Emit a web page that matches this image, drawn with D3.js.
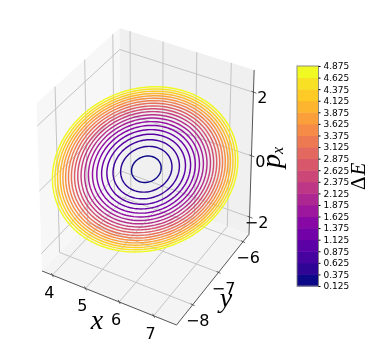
<!DOCTYPE html>
<html>
<head>
<meta charset="utf-8">
<script src="https://cdn.jsdelivr.net/npm/d3@7"></script>
<style>
  html, body { margin: 0; padding: 0; background: #fff; }
  svg { filter: blur(0.3px); }
  text { font-family: "DejaVu Sans", sans-serif; fill: #000; }
  .math { font-family: "Liberation Serif", serif; font-style: italic; }
</style>
</head>
<body>
<svg id="chart" width="374" height="352"></svg>
<script>
// contour levels, also the colorbar tick labels
let levels = [0.125, 0.375, 0.625, 0.875, 1.125, 1.375, 1.625, 1.875, 2.125, 2.375,
              2.625, 2.875, 3.125, 3.375, 3.625, 3.875, 4.125, 4.375, 4.625, 4.875]
// size of every ring relative to the outermost
let ringSizes = [0.16, 0.277, 0.358, 0.424, 0.48, 0.531, 0.577, 0.62, 0.66, 0.698,
                 0.733, 0.767, 0.80, 0.831, 0.861, 0.89, 0.918, 0.946, 0.973, 1.00]
let xTicks = [4, 5, 6, 7]
let yTicks = [-8, -7, -6]
let zTicks = [-2, 0, 2]
let xLimits = [3.68, 7.65]
let yLimits = [-8.6, -5.75]
let zLimits = [-2.57, 2.68]
// outermost ring: centre, amplitude and phase (degrees) per axis
let ringCentre = [5.64, -7.17, 0.11]
let ringAmplitude = [1.82, 1.31, 1.96]
let ringPhase = [0, 37, 107.5]

let svg = d3.select('#chart')

let elev = 30 * Math.PI / 180
let azim = -60 * Math.PI / 180
let dist = 10

let xNorm = d3.scaleLinear().domain(xLimits).range([0, 1])
let yNorm = d3.scaleLinear().domain(yLimits).range([0, 1])
let zNorm = d3.scaleLinear().domain(zLimits).range([0, 1])

let dot = (a, b) => a[0] * b[0] + a[1] * b[1] + a[2] * b[2]
let unit = (a) => { let n = Math.sqrt(dot(a, a)); return a.map(v => v / n) }
let cross = (a, b) => [a[1] * b[2] - a[2] * b[1], a[2] * b[0] - a[0] * b[2], a[0] * b[1] - a[1] * b[0]]

let eye = [0.5 + dist * Math.cos(elev) * Math.cos(azim),
           0.5 + dist * Math.cos(elev) * Math.sin(azim),
           0.5 + dist * Math.sin(elev)]
let w = unit([eye[0] - 0.5, eye[1] - 0.5, eye[2] - 0.5])
let u = unit(cross([0, 0, 1], w))
let v = cross(w, u)

// perspective projection, before it is fitted to the page
let rawProject = (x, y, z) => {
    let p = [xNorm(x) - eye[0], yNorm(y) - eye[1], zNorm(z) - eye[2]]
    let depth = -dot(w, p)
    return [dot(u, p) * dist / depth, dot(v, p) * dist / depth]
}

let [x0, x1] = xLimits
let [y0, y1] = yLimits
let [z0, z1] = zLimits

let screenX = d3.scaleLinear()
    .domain([rawProject(x0, y0, z0)[0], rawProject(x1, y1, z0)[0]])
    .range([42, 249])
let screenY = d3.scaleLinear()
    .domain([rawProject(x1, y0, z0)[1], rawProject(x0, y1, z1)[1]])
    .range([325, 28])

let project = (x, y, z) => {
    let r = rawProject(x, y, z)
    return [screenX(r[0]), screenY(r[1])]
}

let polyline = d3.line()

// panes
let panes = [
    { fill: '#f7f7f7', pts: [[x0, y0, z0], [x0, y1, z0], [x0, y1, z1], [x0, y0, z1]] },
    { fill: '#f0f0f0', pts: [[x0, y1, z0], [x1, y1, z0], [x1, y1, z1], [x0, y1, z1]] },
    { fill: '#f4f4f4', pts: [[x0, y0, z0], [x1, y0, z0], [x1, y1, z0], [x0, y1, z0]] }
]
svg.selectAll('.pane')
    .data(panes)
    .enter()
    .append('path')
    .attr('class', 'pane')
    .attr('fill', d => d.fill)
    .attr('d', d => polyline(d.pts.map(p => project(p[0], p[1], p[2]))) + 'Z')

// grid lines run along the floor and up the walls
let gridLines = []
xTicks.forEach(t => gridLines.push([[t, y0, z0], [t, y1, z0], [t, y1, z1]]))
yTicks.forEach(t => gridLines.push([[x1, t, z0], [x0, t, z0], [x0, t, z1]]))
zTicks.forEach(t => gridLines.push([[x0, y0, t], [x0, y1, t], [x1, y1, t]]))

svg.selectAll('.grid')
    .data(gridLines)
    .enter()
    .append('path')
    .attr('class', 'grid')
    .attr('fill', 'none')
    .attr('stroke', '#c4c4c4')
    .attr('stroke-width', 1)
    .attr('d', d => polyline(d.map(p => project(p[0], p[1], p[2]))))

// axis edges
let axisEdges = [
    [[x0, y0, z0], [x1, y0, z0]],
    [[x1, y0, z0], [x1, y1, z0]],
    [[x1, y1, z0], [x1, y1, z1]]
]
svg.selectAll('.edge')
    .data(axisEdges)
    .enter()
    .append('path')
    .attr('class', 'edge')
    .attr('stroke', '#555555')
    .attr('stroke-width', 1)
    .attr('d', d => polyline(d.map(p => project(p[0], p[1], p[2]))))

// tick marks and tick labels
let tickFormat = d => String(d).replace('-', '\u2212')
let axisTicks = [
    ...xTicks.map(t => ({ label: t, at: project(t, y0, z0), mark: [-1, -2, 1, 2], off: [-3, 17] })),
    ...yTicks.map(t => ({ label: t, at: project(x1, t, z0), mark: [-2, -1, 2, 1], off: [5, 16] })),
    ...zTicks.map(t => ({ label: t, at: project(x1, y1, t), mark: [-2, -1, 3, 1], off: [t < 0 ? 7 : 9, 5] }))
]
let tickGroups = svg.selectAll('.tick3d')
    .data(axisTicks)
    .enter()
    .append('g')
    .attr('class', 'tick3d')
    .attr('transform', d => `translate(${d.at[0]},${d.at[1]})`)
tickGroups.append('line')
    .attr('x1', d => d.mark[0])
    .attr('y1', d => d.mark[1])
    .attr('x2', d => d.mark[2])
    .attr('y2', d => d.mark[3])
    .attr('stroke', '#444444')
    .attr('stroke-width', 0.8)
tickGroups.append('text')
    .attr('x', d => d.off[0])
    .attr('y', d => d.off[1])
    .attr('dy', '0.36em')
    .attr('text-anchor', 'middle')
    .attr('font-size', 16)
    .text(d => tickFormat(d.label))

// rings
let ringColor = d3.scaleSequential(d3.interpolatePlasma)
    .domain([levels[0], levels[levels.length - 1]])
let angles = d3.range(0, 361, 3).map(d => d * Math.PI / 180)
let ringPoints = (size) => angles.map(t => {
    let c = ringCentre.map((m, i) => m + size * ringAmplitude[i] * Math.cos(t + ringPhase[i] * Math.PI / 180))
    return project(c[0], c[1], c[2])
})

svg.selectAll('.ring')
    .data(levels)
    .enter()
    .append('path')
    .attr('class', 'ring')
    .attr('fill', 'none')
    .attr('stroke', d => ringColor(d))
    .attr('stroke-width', 1.45)
    .attr('d', (d, i) => polyline(ringPoints(ringSizes[i])))

// axis labels
let axisLabels = [
    { text: 'x', x: 97, y: 328.5 },
    { text: 'y', x: 226, y: 307 }
]
svg.selectAll('.axis-label')
    .data(axisLabels)
    .enter()
    .append('text')
    .attr('class', 'axis-label math')
    .attr('text-anchor', 'middle')
    .attr('font-size', 28)
    .attr('x', d => d.x)
    .attr('y', d => d.y)
    .text(d => d.text)

let pxLabel = svg.append('text')
    .attr('class', 'math')
    .attr('font-size', 28)
    .attr('transform', 'translate(280,168) rotate(-90)')
pxLabel.append('tspan').text('p')
pxLabel.append('tspan').attr('font-size', 16).attr('dy', 3).text('x')

// colorbar
let barX = d3.scaleLinear().domain([0, 1]).range([297, 318.5])
let barY = d3.scaleLinear().domain([levels[0], levels[levels.length - 1]]).range([286, 66])
let bands = d3.pairs(levels)
let bandColor = d3.scaleSequential(d3.interpolatePlasma).domain([0, bands.length - 1])

svg.selectAll('.band')
    .data(bands)
    .enter()
    .append('rect')
    .attr('class', 'band')
    .attr('x', barX(0))
    .attr('width', barX(1) - barX(0))
    .attr('y', d => barY(d[1]))
    .attr('height', d => barY(d[0]) - barY(d[1]) + 0.5)
    .attr('fill', (d, i) => bandColor(i))

svg.append('rect')
    .attr('x', barX(0))
    .attr('y', barY(levels[levels.length - 1]))
    .attr('width', barX(1) - barX(0))
    .attr('height', barY(levels[0]) - barY(levels[levels.length - 1]))
    .attr('fill', 'none')
    .attr('stroke', '#808080')
    .attr('stroke-width', 0.9)

let barAxis = svg.append('g')
    .attr('transform', `translate(${barX(1)},0)`)
    .call(d3.axisRight(barY).tickValues(levels).tickFormat(d3.format('.3f')).tickSize(2).tickPadding(3))
barAxis.select('.domain').remove()
barAxis.selectAll('text').attr('font-size', 9).attr('font-family', '"DejaVu Sans", sans-serif')

let deltaLabel = svg.append('text')
    .attr('class', 'math')
    .attr('font-size', 21)
    .attr('transform', 'translate(365,190) rotate(-90)')
deltaLabel.append('tspan').style('font-style', 'normal').text('\u0394')
deltaLabel.append('tspan').attr('dx', 1).text('E')
</script>
</body>
</html>
